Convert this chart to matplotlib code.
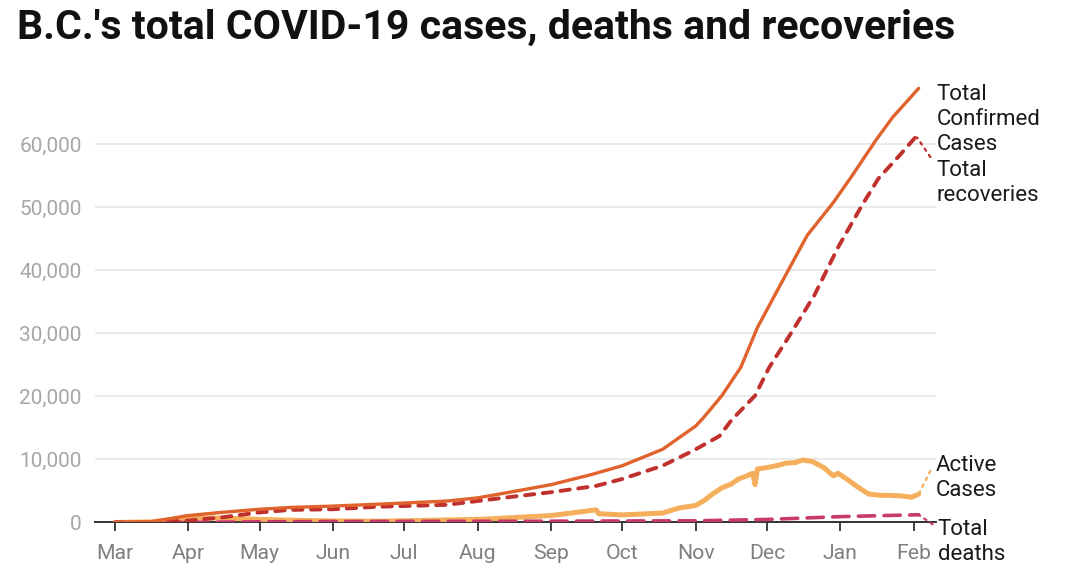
import matplotlib
matplotlib.use("Agg")
import matplotlib.pyplot as plt
import matplotlib.dates as mdates
import pandas as pd

plt.rcParams['font.family'] = ['Roboto', 'DejaVu Sans']

# Total confirmed cases
conf_dates = ["2020-03-01", "2020-03-16", "2020-04-01", "2020-04-15", "2020-05-01",
              "2020-05-15", "2020-06-01", "2020-06-20", "2020-07-19", "2020-08-01",
              "2020-08-16", "2020-09-01", "2020-09-18", "2020-10-01", "2020-10-18",
              "2020-11-01", "2020-11-04", "2020-11-12", "2020-11-20", "2020-11-27",
              "2020-12-06", "2020-12-18", "2020-12-29", "2021-01-06", "2021-01-16",
              "2021-01-23", "2021-02-03"]
conf = [0, 100, 1100, 1600, 2100, 2400, 2600, 2900, 3400, 3900, 4900, 6000, 7600,
        9000, 11600, 15300, 16500, 20100, 24600, 30900, 37200, 45500, 50700, 55000,
        60600, 64200, 68800]

# Total recoveries
rec_dates = ["2020-03-01", "2020-03-16", "2020-04-01", "2020-04-15", "2020-05-01",
             "2020-05-14", "2020-06-01", "2020-06-20", "2020-07-19", "2020-08-16",
             "2020-09-01", "2020-09-20", "2020-10-01", "2020-10-18", "2020-10-31",
             "2020-11-11", "2020-11-16", "2020-11-26", "2020-12-02", "2020-12-10",
             "2020-12-21", "2020-12-31", "2021-01-10", "2021-01-17", "2021-01-26",
             "2021-02-02"]
rec = [0, 0, 300, 800, 1600, 2000, 2100, 2500, 2800, 4100, 4800, 5800, 6900, 9000,
       11400, 13700, 16200, 20100, 24600, 29300, 36000, 43600, 50200, 54500, 58200,
       61200]

# Active cases
act_dates = ["2020-03-01", "2020-03-16", "2020-04-01", "2020-04-15", "2020-05-01",
             "2020-05-15", "2020-06-01", "2020-06-20", "2020-08-02", "2020-09-01",
             "2020-09-20", "2020-09-21", "2020-10-01", "2020-10-18", "2020-10-25",
             "2020-11-01", "2020-11-05", "2020-11-08", "2020-11-12", "2020-11-16",
             "2020-11-19", "2020-11-22", "2020-11-25", "2020-11-26", "2020-11-27",
             "2020-12-01", "2020-12-05", "2020-12-09", "2020-12-13", "2020-12-16",
             "2020-12-20", "2020-12-25", "2020-12-29", "2020-12-31", "2021-01-04",
             "2021-01-08", "2021-01-13", "2021-01-18", "2021-01-22", "2021-01-27",
             "2021-01-31", "2021-02-03"]
act = [0, 100, 700, 700, 500, 350, 250, 200, 500, 1100, 2000, 1400, 1200, 1500, 2300,
       2700, 3600, 4500, 5500, 6100, 6900, 7300, 7800, 6000, 8500, 8700, 9000, 9400,
       9500, 9900, 9700, 8700, 7400, 7800, 6800, 5700, 4500, 4300, 4300, 4200,
       4000, 4500]

# Total deaths
death_dates = ["2020-03-01", "2020-04-01", "2020-05-01", "2020-06-01", "2020-09-01",
               "2020-10-01", "2020-11-01", "2020-12-01", "2021-01-01", "2021-02-03"]
deaths = [0, 25, 110, 165, 210, 240, 270, 480, 930, 1230]

yticks = [0, 10000, 20000, 30000, 40000, 50000, 60000]
month_ticks = pd.date_range("2020-03-01", "2021-02-01", freq="MS")

c_conf = "#e0622c"
c_rec = "#c0302c"
c_act = "#f5ae5b"
c_death = "#c83a6e"

fig = plt.figure(figsize=(10.8, 5.88), dpi=100)
ax = fig.add_axes([0.088, 0.1114, 0.7787, 0.7512])

ax.plot(pd.to_datetime(act_dates), act, color=c_act, lw=3.6, zorder=2,
        solid_capstyle="round", solid_joinstyle="round")
ax.plot(pd.to_datetime(death_dates), deaths, color=c_death, lw=2.6, zorder=3,
        dashes=(4.5, 2.6), dash_capstyle="round")
ax.plot(pd.to_datetime(rec_dates), rec, color=c_rec, lw=2.8, zorder=4,
        dashes=(2.4, 2.2), dash_capstyle="round")
ax.plot(pd.to_datetime(conf_dates), conf, color=c_conf, lw=2.4, zorder=5,
        solid_capstyle="round")

ax.set_xlim(pd.Timestamp("2020-02-21 15:00"), pd.Timestamp("2021-02-10 08:00"))
ax.set_ylim(0, 70000)

ax.set_yticks(yticks)
ax.set_yticklabels([f"{v:,}" for v in yticks])
ax.tick_params(axis="y", length=0, pad=9.5, labelsize=15, labelcolor="#a6a6a6")
ax.grid(axis="y", color="#e6e6e6", lw=1.2)
ax.set_axisbelow(True)

ax.set_xticks(month_ticks)
ax.xaxis.set_major_formatter(mdates.DateFormatter("%b"))
ax.tick_params(axis="x", length=6.5, width=1.3, color="#333333", direction="out",
               pad=9, labelsize=15.3, labelcolor="#808080")

for side in ["top", "right", "left"]:
    ax.spines[side].set_visible(False)
ax.spines["bottom"].set_color("#333333")
ax.spines["bottom"].set_linewidth(1.4)
ax.spines["bottom"].set_zorder(1)

# end labels
label_kw = dict(textcoords="offset pixels", fontsize=16, color="#1a1a1a",
                ha="left", va="center", linespacing=1.27, annotation_clip=False)

ax.annotate("Total\nConfirmed\nCases", xy=(pd.Timestamp(conf_dates[-1]), conf[-1]),
            xytext=(18, -31), **label_kw)
ax.annotate("Total\nrecoveries", xy=(pd.Timestamp(rec_dates[-1]), rec[-1]),
            xytext=(20, -47),
            arrowprops=dict(arrowstyle="-", linestyle=(0, (1.2, 2.2)), lw=1.6,
                            color=c_rec, shrinkA=4, shrinkB=1, relpos=(0, 0.88)),
            **label_kw)
ax.annotate("Active\nCases", xy=(pd.Timestamp(act_dates[-1]), act[-1]),
            xytext=(17, 16),
            arrowprops=dict(arrowstyle="-", linestyle=(0, (1.2, 2.2)), lw=1.6,
                            color=c_act, shrinkA=4, shrinkB=2, relpos=(0, 0.88)),
            **label_kw)
ax.annotate("Total\ndeaths", xy=(pd.Timestamp(death_dates[-1]), deaths[-1]),
            xytext=(19, -27),
            arrowprops=dict(arrowstyle="-", linestyle=(0, (1.2, 2.2)), lw=1.6,
                            color=c_death, shrinkA=2, shrinkB=1, relpos=(0, 0.8)),
            **label_kw)

fig.text(0.0155, 0.9345, "B.C.'s total COVID-19 cases, deaths and recoveries",
         fontsize=29.5, fontweight="bold", color="#111111", ha="left", va="baseline")

fig.savefig("out.png", dpi=100)
